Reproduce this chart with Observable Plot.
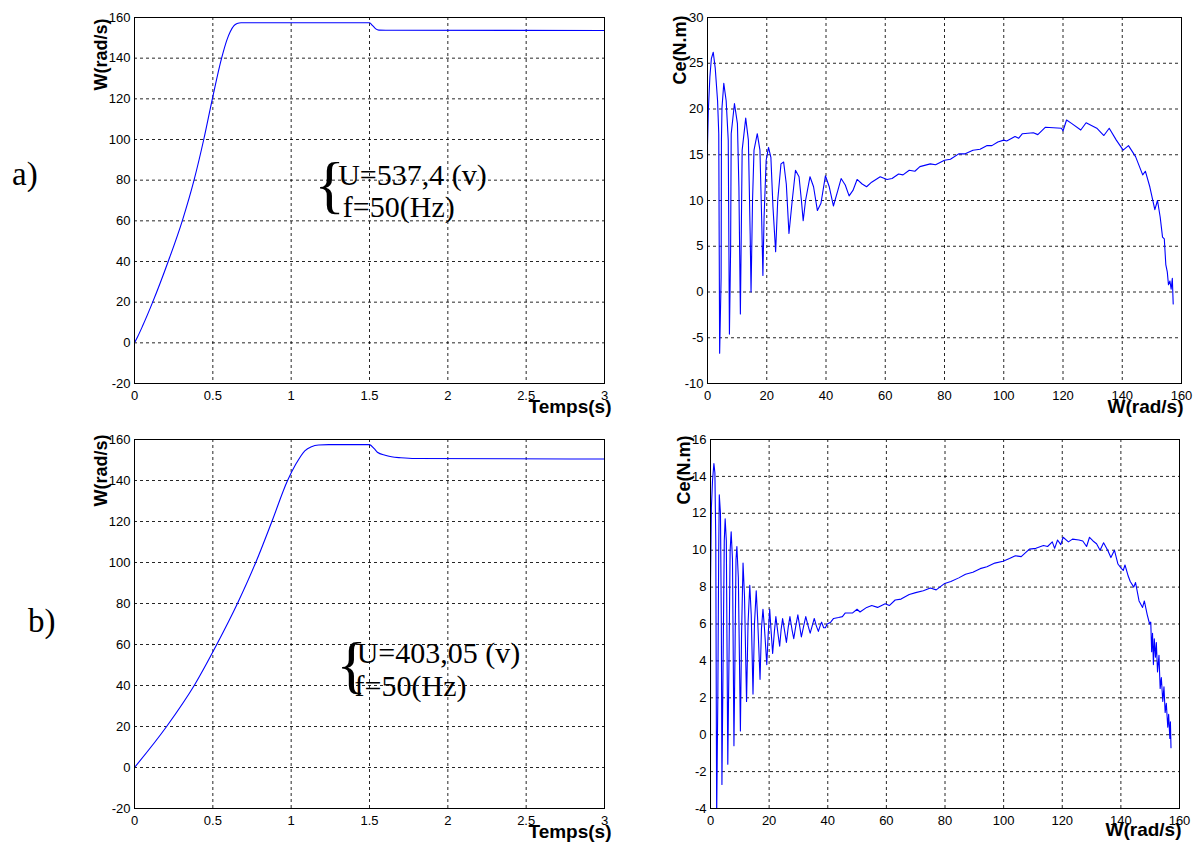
<!DOCTYPE html>
<html>
<head>
<meta charset="utf-8">
<script src="https://cdn.jsdelivr.net/npm/d3@7"></script>
<script src="https://cdn.jsdelivr.net/npm/@observablehq/plot@0.6"></script>
<style>
  body { margin: 0; background: #fff; }
  #root { position: relative; width: 1194px; height: 847px; overflow: hidden; background: #fff; }
  .panel { position: absolute; z-index: 1; }
  .tag { position: absolute; z-index: 5; font-family: "Liberation Serif", "Times New Roman", serif; font-size: 33px; line-height: 33px; color: #000; }
</style>
</head>
<body>
<div id="root">
  <div class="tag" style="left:12px;top:158px">a)</div>
  <div class="tag" style="left:28px;top:605px">b)</div>
</div>
<script>
// ---------- tick values ----------
const timeTicks = [0, 0.5, 1, 1.5, 2, 2.5, 3];
const speedTicks = [-20, 0, 20, 40, 60, 80, 100, 120, 140, 160];
const wTicks = [0, 20, 40, 60, 80, 100, 120, 140, 160];
const torqueTicksA = [-10, -5, 0, 5, 10, 15, 20, 25, 30];
const torqueTicksB = [-4, -2, 0, 2, 4, 6, 8, 10, 12, 14, 16];

// ---------- a) speed W(t) ----------
const speedA = [[0,0],[0.02,3],[0.05,8],[0.116,20],[0.215,40],[0.305,60],[0.38,80],[0.442,100],[0.497,120],[0.556,140],[0.59,149],[0.611,153],[0.635,156],[0.655,157],[0.68,157.4],[1.5,157.4],[1.52,156],[1.54,154.4],[1.56,153.8],[1.65,153.7],[3,153.6]];

// ---------- b) speed W(t) ----------
const speedB = [[0,0],[0.205,20],[0.381,40],[0.525,60],[0.657,80],[0.774,100],[0.877,120],[0.977,140],[1.03,148],[1.087,154.5],[1.13,156.5],[1.175,157.3],[1.24,157.5],[1.5,157.5],[1.53,155.5],[1.55,153.8],[1.6,152.3],[1.64,151.6],[1.7,151.1],[1.79,150.7],[3,150.5]];

// ---------- a) torque Ce(W) ----------
const torqueA = [[0,0],[0,16],[0.3,20],[0.8,23.5],[1.3,25.5],[1.94,26.2],[2.6,24.5],[3.4,20.9],[3.8,17.3],[4.1,-6.7],[4.6,1.6],[4.7,16.6],[4.9,20.2],[5.5,22.8],[6.3,20.9],[7.0,16.6],[7.4,-4.6],[7.8,4.6],[8.0,17.3],[9.1,20.6],[10.1,18.4],[10.6,11.5],[11.1,-2.4],[11.4,6.4],[11.7,15.5],[12.9,19],[13.8,16.6],[14.4,6.4],[14.7,0],[15.2,10],[15.7,15.5],[16.8,17.3],[17.7,15.5],[18.3,7.8],[18.7,1.8],[19.1,8.2],[19.8,14.4],[20.6,15.8],[21.4,14.7],[22.1,9.3],[23.0,4.4],[23.7,10],[24.8,14],[25.7,14.2],[26.6,11.8],[27.5,6.4],[28.6,10],[29.7,13.3],[30.9,12.6],[31.7,10],[32.3,7.8],[33.1,10],[34.6,12.6],[35.8,11.5],[37.1,8.9],[38.3,9.7],[39.8,12.7],[41.1,11.5],[42.5,9.4],[44.0,11.1],[45.1,12.4],[46.5,11.7],[47.8,10.5],[49.1,11.1],[50.5,12.3],[52.2,11.8],[53.7,11.5],[55.4,12],[58.3,12.6],[60.6,12.3],[62.3,12.4],[64.5,12.9],[66,12.8],[68.1,13.3],[70,13.2],[71.7,13.7],[75.2,14],[77,13.9],[80,14.4],[82,14.5],[84.8,15.1],[87,15.1],[89.6,15.5],[92,15.6],[94.4,16],[96,16],[98,16.4],[100,16.6],[101,16.5],[103.8,17],[105,16.8],[106.3,17.3],[110,17.4],[111.5,17.2],[114,18],[119.5,17.9],[120,17.6],[121.2,18.8],[123,18.4],[126,17.7],[127.8,18.5],[131.4,17.9],[133.8,17.1],[135.6,17.9],[138,16.6],[140.3,15.5],[142.1,16],[144.5,14.8],[146.9,12.8],[147.8,13.2],[149.3,11.5],[151,9],[151.9,10],[152.8,8.2],[153.6,6],[154.2,5.8],[154.7,3],[155.2,2.2],[155.6,0.8],[156.1,1.2],[156.5,0.3],[156.9,1.5],[157.2,-1.3]];

// ---------- b) torque Ce(W) ----------
const torqueB = [[0,0],[0.02,8.3],[0.3,12.3],[0.7,13.8],[1.16,14.7],[1.5,14.2],[1.8,10.5],[2.1,-4.5],[2.5,2],[2.8,10],[3.0,13.0],[3.4,12],[3.7,6],[3.9,-2.7],[4.3,4],[4.7,10.5],[5.0,11.7],[5.4,10.5],[5.9,-1.6],[6.3,4],[6.7,10],[7.05,11.0],[7.5,9.5],[8.0,-0.6],[8.4,5],[8.7,9.5],[9.0,10.2],[9.5,8.5],[10.2,0.2],[10.6,5.5],[11.1,9.3],[11.6,7.5],[12.3,1.8],[12.8,6],[13.4,8.1],[13.9,6.5],[14.5,2.2],[15.0,6],[15.6,7.8],[16.1,6.2],[16.9,3.0],[17.4,5.8],[17.9,6.8],[18.4,5.8],[19.2,3.8],[19.7,5.5],[20.2,6.8],[20.6,5.8],[21.2,4.4],[21.8,5.6],[22.3,6.4],[23.0,5.5],[23.6,4.8],[24.1,5.7],[24.6,6.3],[25.3,5.6],[25.9,5.0],[26.5,5.8],[27.1,6.4],[27.8,5.7],[28.4,5.2],[29.1,5.9],[29.8,6.5],[30.4,5.9],[31.0,5.3],[31.8,5.9],[32.5,6.4],[33.3,5.9],[34.0,5.5],[34.7,5.9],[35.4,6.3],[36.1,5.9],[36.8,5.6],[37.4,5.9],[37.9,6.1],[38.6,5.8],[39.2,5.8],[39.8,6.0],[41,6.1],[42,6.3],[43.7,6.35],[45,6.4],[46,6.6],[48.5,6.6],[50,6.8],[51,6.65],[53.3,6.9],[55,7.0],[57,6.9],[59.6,7.1],[61,7.0],[63,7.3],[65,7.35],[67.8,7.6],[70,7.7],[72.6,7.8],[75,7.95],[77,7.85],[79.9,8.2],[82,8.3],[84.7,8.5],[87,8.7],[89.5,8.8],[92,9.0],[94.3,9.1],[97,9.3],[99.8,9.4],[102,9.55],[104,9.7],[106,9.65],[108.8,10.06],[111,10.1],[113.6,10.25],[115,10.2],[116.6,10.45],[117.4,10.1],[118.4,10.55],[119.5,10.3],[120.3,10.7],[122.1,10.45],[123.5,10.6],[125.7,10.55],[127,10.5],[128.3,10.2],[129.3,10.7],[130.5,10.5],[131.7,10.35],[132.9,10.0],[134.1,10.4],[135.5,10.0],[136.6,9.6],[137.8,10.0],[139,9.25],[140.2,9.0],[140.8,8.9],[141.4,9.2],[142.5,8.6],[143.2,8.3],[144.4,8.0],[145,8.25],[146.2,7.25],[147.4,6.9],[148,7.25],[149,6.5],[149.8,6.0],[150.2,6.1],[150.5,4.5],[150.8,5.5],[151.1,3.8],[151.4,5.2],[151.8,4.2],[152.1,5.0],[152.5,3.4],[153,4.3],[153.4,2.5],[153.8,3.1],[154.3,1.8],[154.7,2.6],[155.1,1.2],[155.5,1.7],[156,0.4],[156.3,1.1],[156.7,-0.2],[156.9,0.7],[157.1,-0.7]];

// ---------- annotations ----------
const notesA = [{x: 1.30, y: 82.3, text: "U=537,4 (v)"}, {x: 1.33, y: 66.5, text: "f=50(Hz)"}];
const braceA = [{x: 1.245, y: 75, text: "{"}];
const notesB = [{x: 1.418, y: 55.6, text: "U=403,05 (v)"}, {x: 1.405, y: 39.5, text: "f=50(Hz)"}];
const braceB = [{x: 1.386, y: 47.3, text: "{"}];

const fmt = d => String(d);
const interior = t => t.slice(1, -1);

function panel(cfg) {
  const marks = [
    Plot.gridX(interior(cfg.xTicks), {stroke: "#000", strokeOpacity: 0.85, strokeDasharray: "3,3"}),
    Plot.gridY(interior(cfg.yTicks), {stroke: "#000", strokeOpacity: 0.85, strokeDasharray: "3,3"}),
    Plot.line(cfg.data, {x: d => d[0], y: d => d[1], stroke: "#0000ff", strokeWidth: 1.1, curve: cfg.curve, clip: true}),
    Plot.frame({stroke: "#000"}),
    Plot.text([cfg.xLabel], {frameAnchor: "bottom-right", dx: cfg.xLabelDx, dy: cfg.xLabelDy, textAnchor: "end", fontSize: 19, fontWeight: "bold", fill: "#000"}),
    Plot.text([cfg.yLabel], {frameAnchor: "top-left", rotate: -90, dx: cfg.yLabelDx, dy: cfg.yLabelDy, textAnchor: "end", fontSize: 18, fontWeight: "bold", fill: "#000"})
  ];
  if (cfg.notes) {
    marks.push(Plot.text(cfg.notes, {x: "x", y: "y", text: "text", textAnchor: "start", fontFamily: "Liberation Serif, Times New Roman, serif", fontSize: 30, fill: "#000"}));
    marks.push(Plot.text(cfg.brace, {x: "x", y: "y", text: "text", textAnchor: "middle", dy: -5, fontFamily: "Liberation Serif, Times New Roman, serif", fontSize: 64, fill: "#000"}));
  }
  const svg = Plot.plot({
    width: cfg.width, height: cfg.height,
    marginLeft: cfg.ml, marginRight: cfg.mr, marginTop: cfg.mt, marginBottom: cfg.mb,
    style: {fontFamily: "Liberation Sans, Arial, sans-serif", fontSize: "13px", color: "#000", background: "transparent", overflow: "visible"},
    x: {domain: cfg.xDomain, ticks: cfg.xTicks, tickFormat: fmt, tickSize: 0, tickPadding: 7, label: null},
    y: {domain: cfg.yDomain, ticks: cfg.yTicks, tickFormat: fmt, tickSize: 0, tickPadding: 4, label: null},
    marks
  });
  const div = document.createElement("div");
  div.className = "panel";
  div.style.left = cfg.left + "px";
  div.style.top = cfg.top + "px";
  div.appendChild(svg);
  document.getElementById("root").appendChild(div);
}

panel({left: 0, top: 0, width: 640, height: 423, ml: 134, mr: 36, mt: 17, mb: 40,
  xDomain: [0, 3], xTicks: timeTicks, yDomain: [-20, 160], yTicks: speedTicks,
  data: speedA, curve: "monotone-x", xLabel: "Temps(s)", yLabel: "W(rad/s)",
  xLabelDx: 7, xLabelDy: 29, yLabelDx: -40, yLabelDy: 1, notes: notesA, brace: braceA});

panel({left: 640, top: 0, width: 554, height: 423, ml: 67, mr: 13, mt: 17, mb: 40,
  xDomain: [0, 160], xTicks: wTicks, yDomain: [-10, 30], yTicks: torqueTicksA,
  data: torqueA, curve: "linear", xLabel: "W(rad/s)", yLabel: "Ce(N.m)",
  xLabelDx: 2, xLabelDy: 29, yLabelDx: -34, yLabelDy: -2});

panel({left: 0, top: 423, width: 640, height: 424, ml: 134, mr: 36, mt: 16, mb: 39,
  xDomain: [0, 3], xTicks: timeTicks, yDomain: [-20, 160], yTicks: speedTicks,
  data: speedB, curve: "monotone-x", xLabel: "Temps(s)", yLabel: "W(rad/s)",
  xLabelDx: 7, xLabelDy: 29, yLabelDx: -40, yLabelDy: -5, notes: notesB, brace: braceB});

panel({left: 640, top: 423, width: 554, height: 424, ml: 70, mr: 15, mt: 16, mb: 39,
  xDomain: [0, 160], xTicks: wTicks, yDomain: [-4, 16], yTicks: torqueTicksB,
  data: torqueB, curve: "linear", xLabel: "W(rad/s)", yLabel: "Ce(N.m)",
  xLabelDx: 2, xLabelDy: 27, yLabelDx: -33, yLabelDy: -4});
</script>
</body>
</html>
